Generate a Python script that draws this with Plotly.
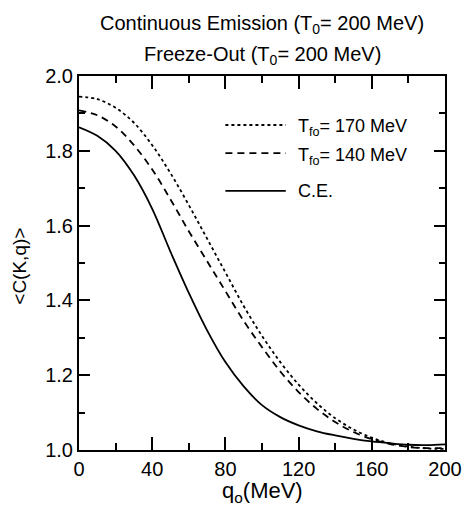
import plotly.graph_objects as go

q = [0, 10, 20, 30, 40, 50, 60, 70, 80, 90, 100, 110, 120, 130, 140, 150, 160, 170, 180, 190, 200]
c_fo170 = [1.945, 1.938, 1.915, 1.875, 1.815, 1.74, 1.655, 1.565, 1.475, 1.385, 1.305, 1.235, 1.175, 1.125, 1.085, 1.055, 1.033, 1.018, 1.009, 1.004, 1.003]
c_fo140 = [1.908, 1.895, 1.865, 1.815, 1.75, 1.67, 1.585, 1.505, 1.425, 1.345, 1.275, 1.21, 1.155, 1.11, 1.075, 1.048, 1.029, 1.016, 1.008, 1.005, 1.005]
c_ce = [1.863, 1.84, 1.80, 1.735, 1.645, 1.53, 1.42, 1.32, 1.235, 1.17, 1.12, 1.088, 1.066, 1.05, 1.039, 1.03, 1.023, 1.018, 1.014, 1.013, 1.015]

legend_labels = ["T<sub>fo</sub>= 170 MeV", "T<sub>fo</sub>= 140 MeV", "C.E."]
title_lines = ["Continuous Emission (T<sub>0</sub>= 200 MeV)", "Freeze-Out (T<sub>0</sub>= 200 MeV)"]
x_title = "q<sub>o</sub>(MeV)"
y_title = "&lt;C(K,q)&gt;"

FONT = "Liberation Sans, Arial, sans-serif"
dashes = ["3px,3px", "7px,5px", "solid"]
series = [c_fo170, c_fo140, c_ce]

fig = go.Figure()
for ys, d in zip(series, dashes):
    fig.add_trace(go.Scatter(x=q, y=ys, mode="lines", line=dict(color="black", width=1.8, dash=d, shape="spline"),
                             showlegend=False, hoverinfo="skip"))

# manual legend
leg_y = [0.869, 0.794, 0.693]
for ly, d, lab in zip(leg_y, dashes, legend_labels):
    fig.add_shape(type="line", xref="paper", yref="paper", x0=0.40, x1=0.565, y0=ly, y1=ly,
                  line=dict(color="black", width=1.8, dash=d))
    fig.add_annotation(xref="paper", yref="paper", x=0.594, y=ly, text=lab, showarrow=False,
                       xanchor="left", yanchor="middle", yshift=(-3 if "sub" in lab else 0),
                       font=dict(family=FONT, size=18, color="black"))

for i, t in enumerate(title_lines):
    fig.add_annotation(xref="paper", yref="paper", x=0.5, y=(1.144 if i == 0 else 1.061), text=t,
                       showarrow=False, xanchor="center", yanchor="middle", yshift=-2,
                       font=dict(family=FONT, size=20, color="black"))

fig.add_annotation(xref="paper", yref="paper", x=0.5, y=-0.112, text=x_title, showarrow=False,
                   xanchor="center", yanchor="middle", font=dict(family=FONT, size=22, color="black"))
fig.add_annotation(xref="paper", yref="paper", x=-0.162, y=0.492, text=y_title, showarrow=False, textangle=-90,
                   xanchor="center", yanchor="middle", font=dict(family=FONT, size=19, color="black"))

axis_common = dict(showgrid=False, zeroline=False, showline=True, linecolor="black", linewidth=2,
                   mirror="ticks", ticks="inside", tickcolor="black", tickwidth=1.5,
                   tickfont=dict(family=FONT, size=20, color="black"))
fig.update_xaxes(range=[0, 200], tickvals=[0, 40, 80, 120, 160, 200], ticklen=13,
                 minor=dict(ticks="inside", ticklen=7, tickvals=[20, 60, 100, 140, 180], tickcolor="black", tickwidth=1.5),
                 **axis_common)
fig.update_yaxes(range=[1.0, 2.0], tickvals=[1.0, 1.2, 1.4, 1.6, 1.8, 2.0], tickformat=".1f", ticklen=11,
                 minor=dict(ticks="inside", ticklen=6, tickvals=[1.1, 1.3, 1.5, 1.7, 1.9], tickcolor="black", tickwidth=1.5),
                 **axis_common)

fig.update_layout(width=474, height=514, margin=dict(l=79, r=18, t=76, b=64),
                  paper_bgcolor="white", plot_bgcolor="white", font=dict(family=FONT, color="black"))
fig.write_html("out.html")
